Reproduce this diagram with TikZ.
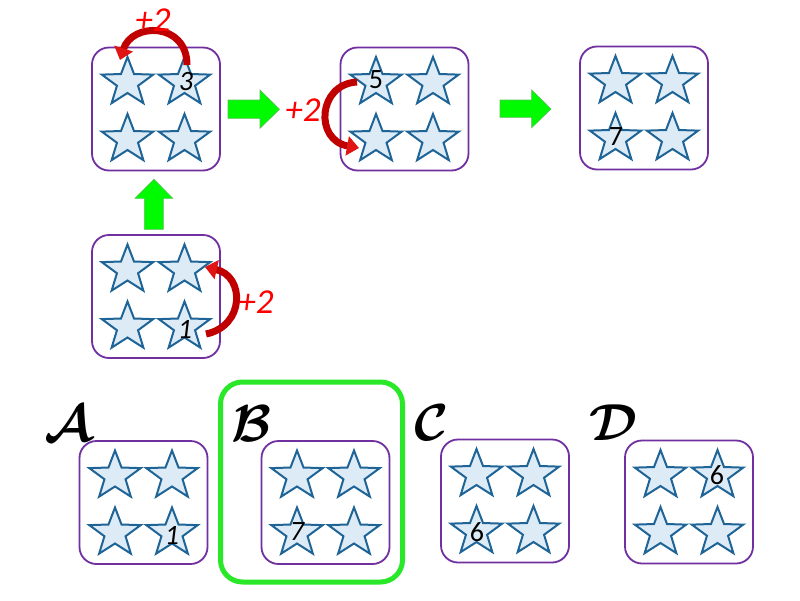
\documentclass[tikz,border=0pt]{standalone}
\usepackage{fontspec}
\usepackage{graphicx}
\usetikzlibrary{arrows.meta}
\newfontfamily\calib{Carlito}
\definecolor{boxpurple}{RGB}{112,48,160}
\definecolor{starfill}{RGB}{221,235,247}
\definecolor{starline}{RGB}{31,100,150}
\definecolor{arrowgreen}{RGB}{0,250,0}
\definecolor{arrowedge}{RGB}{90,190,90}
\definecolor{selgreen}{RGB}{40,232,40}
\definecolor{darkred}{RGB}{192,0,0}
\definecolor{tipred}{RGB}{225,20,20}
\definecolor{plusred}{RGB}{255,0,0}
\tikzset{
  x=1pt, y=-1pt,
  panel/.style={draw=boxpurple, line width=1.8pt, rounded corners=17pt,
    minimum width=128pt, minimum height=123pt, inner sep=0pt},
  selframe/.style={draw=selgreen, line width=5pt, rounded corners=22pt,
    minimum width=182pt, minimum height=200pt, inner sep=0pt},
  pics/mystar/.style={code={
    \draw[fill=starfill, draw=starline, line width=2pt, line join=miter]
      (90:27pt and 25.5pt) -- (126:11.1pt and 10.5pt) --
      (162:27pt and 25.5pt) -- (198:11.1pt and 10.5pt) --
      (234:27pt and 25.5pt) -- (270:11.1pt and 10.5pt) --
      (306:27pt and 25.5pt) -- (342:11.1pt and 10.5pt) --
      (18:27pt and 25.5pt) -- (54:11.1pt and 10.5pt) -- cycle;
  }},
  numup/.style={font=\calib\fontsize{28}{28}\selectfont, inner sep=0pt},
  numit/.style={font=\calib\itshape\fontsize{28}{28}\selectfont, inner sep=0pt},
  plustwo/.style={font=\calib\itshape\fontsize{35}{35}\selectfont, text=plusred, inner sep=0pt},
  greenarrow/.style={fill=arrowgreen, draw=arrowedge, line width=0.6pt},
  redcurve/.style={draw=darkred, line width=7pt,
    -{Triangle[length=12pt,width=19pt,color=tipred]}},
  optletter/.style={inner sep=0pt, anchor=base west}
}
\newcommand{\fourstars}[1]{%
  \begin{scope}[shift={(#1.center)}]
    \pic at (-28.5,-26.5) {mystar};
    \pic at (28.5,-26.5) {mystar};
    \pic at (-28.5,30.5) {mystar};
    \pic at (28.5,30.5) {mystar};
  \end{scope}}
\begin{document}
\begin{tikzpicture}
\useasboundingbox (0,0) rectangle (800,600);
\fill[white] (0,0) rectangle (800,600);

% panels
\node[panel] (b1) at (156,109) {};
\node[panel] (b2) at (404.5,109) {};
\node[panel] (b3) at (644,108) {};
\node[panel] (b0) at (156,296.5) {};
\node[selframe] (sel) at (311.5,482) {};
\node[panel] (bA) at (143.5,502.5) {};
\node[panel] (bB) at (325.5,502.5) {};
\node[panel] (bC) at (505,501) {};
\node[panel] (bD) at (689,502) {};

\fourstars{b1}
\fourstars{b2}
\fourstars{b3}
\fourstars{b0}
\fourstars{bA}
\fourstars{bB}
\fourstars{bC}
\fourstars{bD}

% numbers
\node[numit] (n3) at (186,82) {3};
\node[numup] (n5) at (376,80) {5};
\node[numup] (n7) at (616,137) {7};
\node[numit] (n1) at (185,329) {1};
\node[numit] (nA) at (172,535) {1};
\node[numit] (nB) at (297,532) {7};
\node[numup] (nC) at (477,532) {6};
\node[numup] (nD) at (717,475) {6};

% green arrows
\draw[greenarrow] (228,100) -- (260,100) -- (260,90) -- (279.5,109.3) -- (260,128.3) -- (260,118.3) -- (228,118.3) -- cycle;
\draw[greenarrow] (500,100) -- (531.7,100) -- (531.7,90) -- (551,109) -- (531.7,127.7) -- (531.7,117.3) -- (500,117.3) -- cycle;
\draw[greenarrow] (144.3,229.3) -- (144.3,198.3) -- (135,198.3) -- (154,179.3) -- (172.7,198.3) -- (163.3,198.3) -- (163.3,229.3) -- cycle;

% red curved arrows
\coordinate (r1s) at (187,65);
\coordinate (r1e) at (120,60);
\coordinate (r2s) at (357,82);
\coordinate (r2e) at (359,148);
\coordinate (r3s) at (206,334);
\coordinate (r3e) at (205,267);
\draw[redcurve] (r1s) .. controls (187,22) and (132,22) .. (r1e);
\draw[redcurve] (r2s) .. controls (318,84) and (314,140) .. (r2e);
\draw[redcurve] (r3s) .. controls (245,326) and (245,276) .. (r3e);

% +2 labels
\node[plustwo] (p1) at (153,20) {+2};
\node[plustwo] (p2) at (303,110) {+2};
\node[plustwo] (p3) at (256,302) {+2};

% option letters
\node[optletter] (lA) at (44,441) {\scalebox{5.2}{\boldmath$\mathcal{A}$}};
\node[optletter] (lB) at (231,441) {\scalebox{5.2}{\boldmath$\mathcal{B}$}};
\node[optletter] (lC) at (414,440) {\scalebox{5.2}{\boldmath$\mathcal{C}$}};
\node[optletter] (lD) at (589,440) {\scalebox{5.2}{\boldmath$\mathcal{D}$}};
\end{tikzpicture}
\end{document}
